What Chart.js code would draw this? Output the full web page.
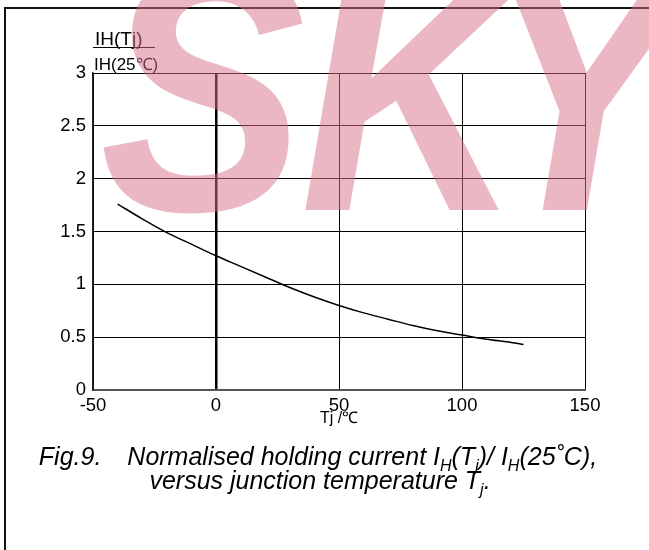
<!DOCTYPE html>
<html>
<head>
<meta charset="utf-8">
<script src="https://cdn.jsdelivr.net/npm/chart.js@4.4.1/dist/chart.umd.min.js"></script>
<style>
  html, body { margin: 0; padding: 0; background: #fff; }
  canvas { display: block; }
</style>
</head>
<body>
<canvas id="chart" width="649" height="550"></canvas>
<script>
// Junction temperature (deg C) and normalised holding current IH(Tj)/IH(25C)
const tempValues = [-40, -30, -20, -10, 0, 10, 20, 30, 40, 50, 60, 70, 80, 90, 100, 110, 120, 125];
const ratioValues = [1.76, 1.62, 1.49, 1.38, 1.27, 1.17, 1.07, 0.97, 0.88, 0.80, 0.73, 0.67, 0.61, 0.56, 0.52, 0.48, 0.45, 0.43];

const xTicks = [-50, 0, 50, 100, 150];
const yTicks = [0, 0.5, 1, 1.5, 2, 2.5, 3];

const FONT = "'Liberation Sans', Arial, sans-serif";

// Draw a line of text made of normal / subscript runs, centred on cx
function drawRuns(ctx, runs, cx, y, size) {
    const subSize = Math.round(size * 0.65);
    let total = 0;
    runs.forEach(r => {
        ctx.font = `italic ${r.sub ? subSize : size}px ${FONT}`;
        r.w = ctx.measureText(r.t).width + (r.gap || 0);
        total += r.w;
    });
    let x = cx - total / 2;
    runs.forEach(r => {
        ctx.font = `italic ${r.sub ? subSize : size}px ${FONT}`;
        ctx.fillText(r.t, x, r.sub ? y + size * 0.22 : y);
        x += r.w;
    });
}

const decorations = {
    id: 'decorations',
    beforeDraw(chart) {
        const ctx = chart.ctx;
        ctx.save();
        // page frame
        ctx.strokeStyle = '#111';
        ctx.lineWidth = 2;
        ctx.beginPath();
        ctx.moveTo(5, 550);
        ctx.lineTo(5, 8);
        ctx.lineTo(649, 8);
        ctx.stroke();
        ctx.restore();
    },
    afterDraw(chart) {
        const ctx = chart.ctx;
        const area = chart.chartArea;
        ctx.save();
        ctx.fillStyle = '#000';
        ctx.textBaseline = 'alphabetic';

        // y axis title as a fraction
        ctx.textAlign = 'left';
        ctx.font = `19px ${FONT}`;
        ctx.fillText('IH(Tj)', 95, 45);
        ctx.font = `17px ${FONT}`;
        ctx.fillText('IH(25℃)', 94, 70);
        ctx.strokeStyle = '#000';
        ctx.lineWidth = 1;
        ctx.beginPath();
        ctx.moveTo(93, 47.5);
        ctx.lineTo(155, 47.5);
        ctx.stroke();

        // x axis title
        ctx.font = `16px ${FONT}`;
        ctx.textAlign = 'center';
        ctx.fillText('Tj /℃', (area.left + area.right) / 2, 423);

        // caption
        ctx.textAlign = 'left';
        drawRuns(ctx, [
            { t: 'Fig.9.', gap: 26 },
            { t: 'Normalised holding current I' },
            { t: 'H', sub: true },
            { t: '(T' },
            { t: 'j', sub: true },
            { t: ')/ I' },
            { t: 'H', sub: true },
            { t: '(25˚C),' }
        ], 318, 465, 25);
        drawRuns(ctx, [
            { t: 'versus junction temperature T' },
            { t: 'j', sub: true },
            { t: '.' }
        ], 320, 489, 25);

        // watermark, letters placed one by one
        ctx.fillStyle = 'rgba(214, 112, 136, 0.5)';
        ctx.font = `italic bold 350px ${FONT}`;
        ctx.textAlign = 'left';
        [['S', 100], ['K', 300], ['Y', 478]].forEach(([ch, x]) => {
            ctx.save();
            ctx.translate(x, 210);
            ctx.scale(0.88, 1);
            ctx.fillText(ch, 0, 0);
            ctx.restore();
        });
        ctx.restore();
    }
};

new Chart(document.getElementById('chart'), {
    type: 'line',
    data: {
        datasets: [{
            data: tempValues.map((t, i) => ({ x: t, y: ratioValues[i] })),
            borderColor: '#000',
            borderWidth: 1.5,
            pointRadius: 0,
            fill: false,
            cubicInterpolationMode: 'monotone'
        }]
    },
    options: {
        responsive: false,
        animation: false,
        devicePixelRatio: 1,
        layout: { padding: { left: 0, right: 64, top: 73, bottom: 0 } },
        plugins: {
            legend: { display: false },
            tooltip: { enabled: false }
        },
        scales: {
            x: {
                type: 'linear',
                min: -50,
                max: 150,
                afterBuildTicks: scale => { scale.ticks = xTicks.map(v => ({ value: v })); },
                afterFit: scale => { scale.height = 160; },
                grid: {
                    color: '#000',
                    lineWidth: c => (c.tick && c.tick.value === 0 ? 2.5 : 1),
                    drawTicks: false
                },
                border: { display: true, color: '#555', width: 2 },
                ticks: {
                    color: '#000',
                    padding: 5,
                    font: { family: FONT, size: 18.5 },
                    callback: v => String(v)
                }
            },
            y: {
                min: 0,
                max: 3,
                afterBuildTicks: scale => { scale.ticks = yTicks.map(v => ({ value: v })); },
                afterFit: scale => { scale.width = 93; },
                grid: {
                    color: '#000',
                    lineWidth: 1,
                    drawTicks: false
                },
                border: { display: true, color: '#222', width: 1.5 },
                ticks: {
                    color: '#000',
                    padding: 7,
                    font: { family: FONT, size: 18.5 },
                    callback: v => String(v)
                }
            }
        }
    },
    plugins: [decorations]
});
</script>
</body>
</html>
